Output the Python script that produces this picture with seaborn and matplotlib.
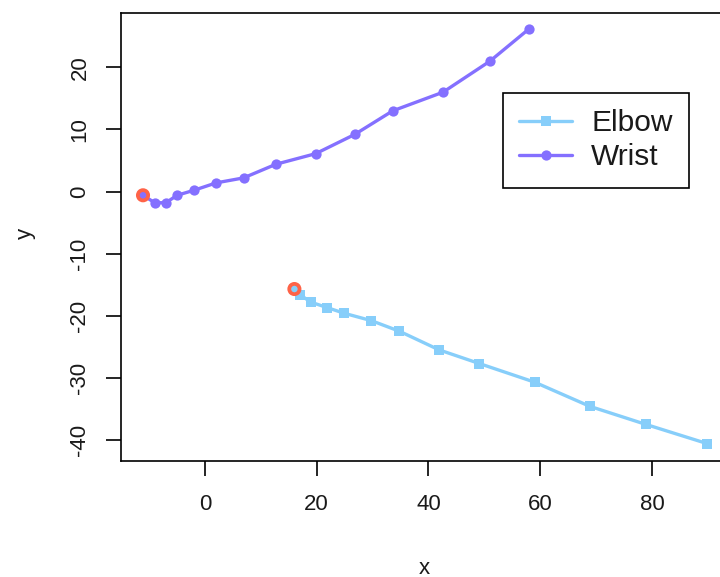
import matplotlib
matplotlib.use("Agg")
import matplotlib.pyplot as plt
from matplotlib.lines import Line2D
import pandas as pd
import seaborn as sns

# Joint trajectories (first point of each track is the start position)
elbow_x = [16.0, 17.0, 18.9, 21.9, 24.9, 29.8, 34.8, 41.9, 49.1, 59.0, 68.9, 78.9, 89.9]
elbow_y = [-15.7, -16.6, -17.8, -18.7, -19.6, -20.8, -22.5, -25.5, -27.7, -30.7, -34.6, -37.5, -40.6]
wrist_x = [-11.1, -9.0, -7.0, -5.0, -2.0, 2.0, 6.9, 12.7, 19.8, 26.8, 33.6, 42.6, 51.0, 58.0]
wrist_y = [-0.6, -1.8, -1.8, -0.6, 0.2, 1.4, 2.2, 4.4, 6.1, 9.2, 13.0, 16.0, 21.0, 26.2]
joints = ["Elbow", "Wrist"]
x_ticks = [0, 20, 40, 60, 80]
y_ticks = [-40, -30, -20, -10, 0, 10, 20]

elbow_col = "#87CEFA"
wrist_col = "#8470FF"
start_col = "#FF6347"

df = pd.concat([
    pd.DataFrame({"x": elbow_x, "y": elbow_y, "joint": joints[0]}),
    pd.DataFrame({"x": wrist_x, "y": wrist_y, "joint": joints[1]}),
], ignore_index=True)
starts = df.groupby("joint", sort=False).head(1)

sns.set_style("white")
plt.rcParams["font.family"] = ["Liberation Sans", "DejaVu Sans"]

fig = plt.figure(figsize=(7.2, 5.77), dpi=100)
ax = fig.add_axes([121 / 720, 116 / 577, 608 / 720, 448 / 577])

sns.lineplot(
    data=df, x="x", y="y", hue="joint", style="joint",
    palette={"Elbow": elbow_col, "Wrist": wrist_col},
    markers={"Elbow": "s", "Wrist": "o"}, dashes=False,
    sort=False, estimator=None, linewidth=2.4, markersize=7.4,
    markeredgewidth=0, legend=False, ax=ax,
)
sns.scatterplot(
    data=starts, x="x", y="y", marker="o", s=55,
    facecolor="none", edgecolor=start_col, linewidth=2.7,
    legend=False, ax=ax, zorder=5,
)

ax.set_xlim(-15.04, 93.8)
ax.set_ylim(-43.4, 28.76)
ax.set_xticks(x_ticks)
ax.set_yticks(y_ticks)
ax.set_xticklabels([str(v) for v in x_ticks])
ax.set_yticklabels([str(v) for v in y_ticks], rotation=90, va="center")
ax.tick_params(axis="both", which="major", bottom=True, left=True,
               direction="out", length=11, width=1.2,
               labelsize=16, color="black", labelcolor="#1a1a1a")
ax.tick_params(axis="x", pad=13)
ax.tick_params(axis="y", pad=11)
for side in ax.spines.values():
    side.set_visible(True)
    side.set_color("black")
    side.set_linewidth(1.2)

ax.set_xlabel("")
ax.set_ylabel("")
fig.text(424 / 720, 1 - 568 / 577, "x", ha="center", va="center", fontsize=16, color="#1a1a1a")
fig.text(25 / 720, 1 - 233 / 577, "y", ha="center", va="center", fontsize=16,
         rotation=90, color="#1a1a1a")

handles = [
    Line2D([], [], color=elbow_col, lw=2.4, marker="s", ms=7.4, mew=0),
    Line2D([], [], color=wrist_col, lw=2.4, marker="o", ms=7.4, mew=0),
]
leg = ax.legend(
    handles, joints, loc="upper left",
    bbox_to_anchor=(503 / 720, 1 - 93 / 577), bbox_transform=fig.transFigure,
    fontsize=21.5, frameon=True, fancybox=False, edgecolor="black",
    handlelength=1.75, handletextpad=0.65, labelspacing=0.2,
    borderpad=0.55, borderaxespad=0, numpoints=1, framealpha=1,
)
leg.get_frame().set_linewidth(1.2)
for t in leg.get_texts():
    t.set_color("#1a1a1a")

fig.savefig("out.png", dpi=100)
